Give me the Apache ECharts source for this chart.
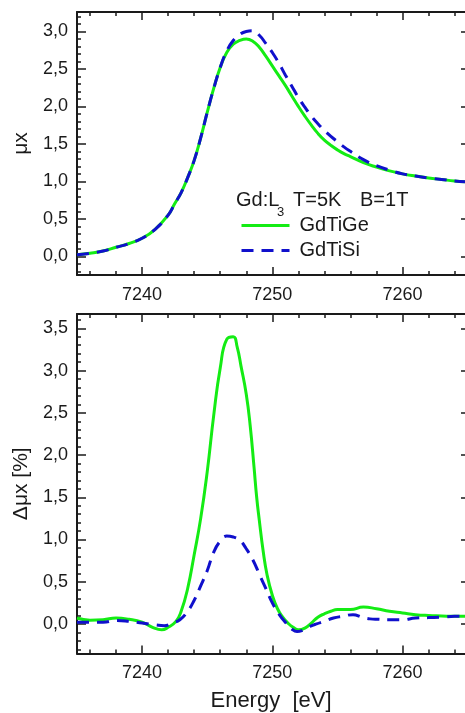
<!DOCTYPE html>
<html>
<head>
<meta charset="utf-8">
<title>Gd L3 XANES and XMCD</title>
<script src="https://cdn.jsdelivr.net/npm/echarts@6.0.0/dist/echarts.min.js"></script>
<style>
  html, body { margin: 0; padding: 0; background: #ffffff; }
  #chart { width: 465px; height: 713px; }
</style>
</head>
<body>
<div id="chart"></div>
<script>
// ---- Absorption (mu x), upper panel ----
const geAbsEnergy = [7235, 7236, 7237, 7238, 7239, 7240, 7241, 7242, 7242.5, 7243, 7243.5, 7244, 7244.5, 7245, 7245.5, 7246, 7246.5, 7247, 7247.5, 7248, 7248.5, 7249, 7249.5, 7250, 7250.5, 7251, 7251.5, 7252, 7252.5, 7253, 7253.5, 7254, 7254.5, 7255, 7255.5, 7256, 7257, 7258, 7259, 7260, 7261, 7262, 7263, 7264, 7264.8];
const geAbs = [0.02, 0.04, 0.07, 0.12, 0.17, 0.24, 0.36, 0.55, 0.70, 0.85, 1.05, 1.28, 1.58, 1.92, 2.24, 2.52, 2.72, 2.83, 2.88, 2.90, 2.87, 2.79, 2.67, 2.54, 2.41, 2.28, 2.14, 2.00, 1.87, 1.75, 1.64, 1.55, 1.48, 1.42, 1.37, 1.33, 1.25, 1.19, 1.14, 1.10, 1.07, 1.045, 1.025, 1.005, 0.995];

const siAbsEnergy = [7235, 7236, 7237, 7238, 7239, 7240, 7241, 7242, 7242.5, 7243, 7243.5, 7244, 7244.5, 7245, 7245.5, 7246, 7246.5, 7247, 7247.5, 7248, 7248.5, 7249, 7249.5, 7250, 7250.5, 7251, 7251.5, 7252, 7252.5, 7253, 7253.5, 7254, 7254.5, 7255, 7255.5, 7256, 7257, 7258, 7259, 7260, 7261, 7262, 7263, 7264, 7264.8];
const siAbs = [0.02, 0.04, 0.07, 0.12, 0.17, 0.24, 0.36, 0.55, 0.70, 0.85, 1.05, 1.28, 1.58, 1.92, 2.24, 2.52, 2.74, 2.88, 2.96, 3.00, 3.01, 2.95, 2.84, 2.72, 2.58, 2.42, 2.27, 2.12, 1.99, 1.87, 1.77, 1.68, 1.60, 1.53, 1.46, 1.40, 1.29, 1.21, 1.15, 1.10, 1.07, 1.045, 1.025, 1.005, 0.995];

// ---- Dichroism (delta mu x, %), lower panel ----
const geDicEnergy = [7235, 7236, 7237, 7238, 7239, 7240, 7240.8, 7241.5, 7242, 7242.6, 7243, 7243.5, 7244, 7244.5, 7245, 7245.5, 7246, 7246.5, 7247, 7247.3, 7247.6, 7248, 7248.3, 7248.6, 7248.8, 7249, 7249.3, 7249.6, 7250, 7250.4, 7250.8, 7251.2, 7251.6, 7252, 7252.5, 7253, 7253.5, 7254, 7254.5, 7255, 7256, 7257, 7258, 7259, 7260, 7261, 7262, 7263, 7264, 7264.8];
const geDic = [0.07, 0.045, 0.05, 0.07, 0.055, 0.02, -0.04, -0.07, -0.04, 0.03, 0.15, 0.42, 0.82, 1.25, 1.80, 2.47, 3.03, 3.37, 3.40, 3.28, 3.05, 2.72, 2.35, 1.85, 1.50, 1.23, 0.86, 0.58, 0.34, 0.18, 0.08, 0.01, -0.04, -0.07, -0.05, 0.01, 0.08, 0.12, 0.15, 0.17, 0.17, 0.20, 0.18, 0.15, 0.13, 0.11, 0.10, 0.095, 0.09, 0.09];

const siDicEnergy = [7235, 7236, 7237, 7238, 7239, 7240, 7241, 7241.7, 7242.3, 7242.9, 7243.5, 7244, 7244.5, 7245, 7245.5, 7246, 7246.5, 7247, 7247.5, 7248, 7248.5, 7249, 7249.5, 7250, 7250.5, 7251, 7251.5, 7251.9, 7252.4, 7252.9, 7253.4, 7254, 7254.7, 7255.4, 7256.2, 7256.9, 7257.5, 7258.2, 7259, 7260, 7261, 7262, 7263, 7264, 7264.8];
const siDic = [0.02, 0.02, 0.02, 0.04, 0.03, 0.01, -0.01, -0.02, 0.01, 0.05, 0.15, 0.28, 0.45, 0.63, 0.85, 0.98, 1.04, 1.03, 0.99, 0.89, 0.76, 0.59, 0.42, 0.25, 0.12, 0.02, -0.06, -0.09, -0.07, -0.03, 0.00, 0.03, 0.07, 0.09, 0.11, 0.08, 0.06, 0.055, 0.05, 0.05, 0.07, 0.075, 0.08, 0.09, 0.09];

// ---- Tick positions ----
const energyLabels = [7240, 7250, 7260];
const energyMinor = [7236, 7238, 7240, 7242, 7244, 7246, 7248, 7250, 7252, 7254, 7256, 7258, 7260, 7262, 7264];
const muLabels = [0, 0.5, 1.0, 1.5, 2.0, 2.5, 3.0];
const muMinor = [-0.2, -0.1, 0, 0.1, 0.2, 0.3, 0.4, 0.5, 0.6, 0.7, 0.8, 0.9, 1.0, 1.1, 1.2, 1.3, 1.4, 1.5, 1.6, 1.7, 1.8, 1.9, 2.0, 2.1, 2.2, 2.3, 2.4, 2.5, 2.6, 2.7, 2.8, 2.9, 3.0, 3.1, 3.2];
const dmuLabels = [0, 0.5, 1.0, 1.5, 2.0, 2.5, 3.0, 3.5];
const dmuMinor = [-0.3, -0.2, -0.1, 0, 0.1, 0.2, 0.3, 0.4, 0.5, 0.6, 0.7, 0.8, 0.9, 1.0, 1.1, 1.2, 1.3, 1.4, 1.5, 1.6, 1.7, 1.8, 1.9, 2.0, 2.1, 2.2, 2.3, 2.4, 2.5, 2.6, 2.7, 2.8, 2.9, 3.0, 3.1, 3.2, 3.3, 3.4, 3.5, 3.6];

const FONT = '"Liberation Sans", Arial, Helvetica, sans-serif';
const INK = '#1a1a1a';
const GREEN = '#14ec14';
const BLUE = '#1010cc';
const E_MIN = 7235, E_MAX = 7264.8;

const pairs = (xs, ys) => xs.map((x, i) => [x, ys[i]]);
const comma = v => v.toFixed(1).replace('.', ',');
const plain = v => String(Math.round(v));

// Builds the x axes of one panel: labelled bottom axis, tick-only overlays, top frame.
function energyAxes(gridIndex, withName) {
  const base = { type: 'value', gridIndex, min: E_MIN, max: E_MAX, splitLine: { show: false } };
  const frame = { show: true, onZero: false, lineStyle: { color: INK, width: 2 } };
  const hidden = { show: false, onZero: false };
  return [
    Object.assign({}, base, {
      position: 'bottom',
      axisLine: frame,
      axisTick: { show: true, inside: true, length: 4, customValues: energyMinor, lineStyle: { color: INK, width: 1.5 } },
      axisLabel: { show: true, customValues: energyLabels, formatter: plain, margin: 11, color: INK, fontFamily: FONT, fontSize: 18 },
      name: withName ? 'Energy  [eV]' : '',
      nameLocation: 'middle',
      nameGap: 36,
      nameTextStyle: { color: INK, fontFamily: FONT, fontSize: 22 }
    }),
    Object.assign({}, base, {
      position: 'bottom',
      axisLine: hidden,
      axisTick: { show: true, inside: true, length: 8, customValues: energyLabels, lineStyle: { color: INK, width: 1.5 } },
      axisLabel: { show: false }
    }),
    Object.assign({}, base, {
      position: 'top',
      axisLine: frame,
      axisTick: { show: true, inside: true, length: 4, customValues: energyMinor, lineStyle: { color: INK, width: 1.5 } },
      axisLabel: { show: false }
    }),
    Object.assign({}, base, {
      position: 'top',
      axisLine: hidden,
      axisTick: { show: true, inside: true, length: 8, customValues: energyLabels, lineStyle: { color: INK, width: 1.5 } },
      axisLabel: { show: false }
    })
  ];
}

// Builds the y axes of one panel: labelled left axis, major-tick overlay, right tick column.
function valueAxes(gridIndex, min, max, labels, minor, title) {
  const base = { type: 'value', gridIndex, min, max, splitLine: { show: false } };
  return [
    Object.assign({}, base, {
      position: 'left',
      axisLine: { show: true, onZero: false, lineStyle: { color: INK, width: 2 } },
      axisTick: { show: true, inside: true, length: 4, customValues: minor, lineStyle: { color: INK, width: 1.5 } },
      axisLabel: { show: true, customValues: labels, formatter: comma, margin: 9, color: INK, fontFamily: FONT, fontSize: 18 },
      name: title,
      nameLocation: 'middle',
      nameGap: 40,
      nameTextStyle: { color: INK, fontFamily: FONT, fontSize: 21 }
    }),
    Object.assign({}, base, {
      position: 'left',
      axisLine: { show: false, onZero: false },
      axisTick: { show: true, inside: true, length: 9, customValues: labels, lineStyle: { color: INK, width: 1.5 } },
      axisLabel: { show: false }
    }),
    Object.assign({}, base, {
      position: 'right',
      axisLine: { show: false, onZero: false },
      axisTick: { show: true, inside: true, length: 4, customValues: labels, lineStyle: { color: INK, width: 1.5 } },
      axisLabel: { show: false }
    })
  ];
}

function curve(name, xIndex, yIndex, data, color, dashed) {
  return {
    name, type: 'line', xAxisIndex: xIndex, yAxisIndex: yIndex, data,
    showSymbol: false, symbol: 'none', smooth: 0.5,
    lineStyle: { color, width: 3, type: dashed ? [12, 8] : 'solid' },
    itemStyle: { color },
    z: dashed ? 3 : 2
  };
}

const chart = echarts.init(document.getElementById('chart'), null, { renderer: 'canvas' });

chart.setOption({
  backgroundColor: '#ffffff',
  animation: false,
  grid: [
    { left: 77, right: 0, top: 12, height: 263 },
    { left: 77, right: 0, top: 314, height: 339.5 }
  ],
  xAxis: energyAxes(0, false).concat(energyAxes(1, true)),
  yAxis: valueAxes(0, -0.25, 3.26, muLabels, muMinor, 'μx')
    .concat(valueAxes(1, -0.35, 3.67, dmuLabels, dmuMinor, 'Δμx [%]')),
  legend: {
    orient: 'vertical',
    left: 240,
    top: 215,
    padding: 0,
    itemWidth: 48,
    itemHeight: 14,
    itemGap: 4,
    data: ['GdTiGe', 'GdTiSi'],
    itemStyle: { opacity: 0 },
    lineStyle: { width: 3 },
    textStyle: { color: INK, fontFamily: FONT, fontSize: 20, lineHeight: 21, padding: [0, 0, 0, 5] },
    selectedMode: false
  },
  graphic: [
    { type: 'text', left: 236, top: 190, style: { text: 'Gd:L', font: '20px ' + FONT, fill: INK } },
    { type: 'text', left: 277, top: 206, style: { text: '3', font: '13px ' + FONT, fill: INK } },
    { type: 'text', left: 293, top: 190, style: { text: 'T=5K', font: '20px ' + FONT, fill: INK } },
    { type: 'text', left: 360, top: 190, style: { text: 'B=1T', font: '20px ' + FONT, fill: INK } }
  ],
  series: [
    curve('GdTiGe', 0, 0, pairs(geAbsEnergy, geAbs), GREEN, false),
    curve('GdTiSi', 0, 0, pairs(siAbsEnergy, siAbs), BLUE, true),
    curve('GdTiGe', 4, 3, pairs(geDicEnergy, geDic), GREEN, false),
    curve('GdTiSi', 4, 3, pairs(siDicEnergy, siDic), BLUE, true)
  ]
});
</script>
</body>
</html>
